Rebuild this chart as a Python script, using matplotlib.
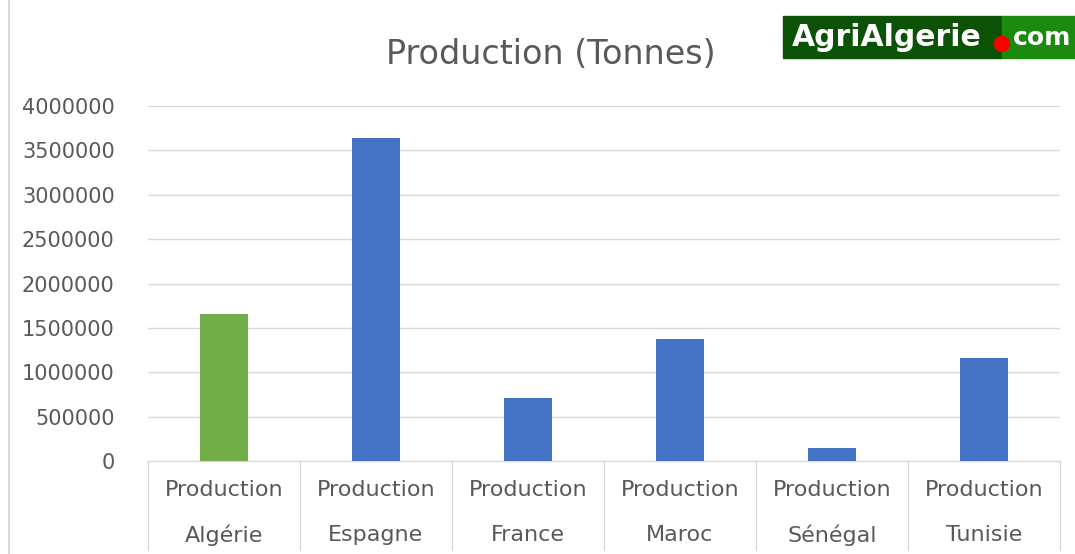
import matplotlib.pyplot as plt
from matplotlib.patches import Rectangle, Ellipse
from matplotlib.lines import Line2D

pays = ['Algérie', 'Espagne', 'France', 'Maroc', 'Sénégal', 'Tunisie']
production = [1660000, 3640000, 710000, 1380000, 145000, 1160000]
couleurs = ['#70AD47', '#4472C4', '#4472C4', '#4472C4', '#4472C4', '#4472C4']
yticks = [0, 500000, 1000000, 1500000, 2000000, 2500000, 3000000, 3500000, 4000000]

plt.rcParams['font.family'] = ['DejaVu Sans']
gris = '#595959'

W, H = 1075, 554
fig = plt.figure(figsize=(W / 100, H / 100), dpi=100)

# zone de tracé en pixels
x0, x1, y0, y1 = 148, 1060, 461, 106
ax = fig.add_axes([x0 / W, 1 - y0 / H, (x1 - x0) / W, (y0 - y1) / H])

x = list(range(len(pays)))
ax.bar(x, production, width=0.31, color=couleurs, zorder=3)
ax.set_xlim(-0.5, len(pays) - 0.5)
ax.set_ylim(0, 4000000)
ax.set_yticks(yticks)
ax.set_yticklabels([str(v) for v in yticks], color=gris, fontsize=15)
ax.tick_params(axis='y', length=0, pad=24)
ax.set_xticks([])
ax.grid(axis='y', color='#D9D9D9', linewidth=1, zorder=0)
for s in ['top', 'right', 'left']:
    ax.spines[s].set_visible(False)
ax.spines['bottom'].set_color('#D9D9D9')

# étiquettes de catégories sur deux lignes avec séparateurs
bas = -(550 - y0) / (y0 - y1)
for i, p in enumerate(pays):
    ax.text(i, -(490 - y0) / (y0 - y1), 'Production', transform=ax.get_xaxis_transform(),
            ha='center', va='center', color=gris, fontsize=16)
    ax.text(i, -(535 - y0) / (y0 - y1), p, transform=ax.get_xaxis_transform(),
            ha='center', va='center', color=gris, fontsize=16)
for i in range(len(pays) + 1):
    ax.plot([i - 0.5, i - 0.5], [0, bas], transform=ax.get_xaxis_transform(),
            color='#D9D9D9', linewidth=1, clip_on=False)

fig.text(551 / W, 1 - 55 / H, 'Production (Tonnes)', ha='center', va='center',
         color=gris, fontsize=24)

# bordure gauche du graphique
fig.add_artist(Line2D([9 / W, 9 / W], [0, 1], color='#D9D9D9', linewidth=1.5))

# logo AgriAlgerie.com
fig.add_artist(Rectangle((783 / W, 1 - 58 / H), (1002 - 783) / W, 42 / H,
                         transform=fig.transFigure, color='#0B5207'))
fig.add_artist(Rectangle((1002 / W, 1 - 58 / H), (W - 1002) / W, 42 / H,
                         transform=fig.transFigure, color='#1C8A0E'))
fig.text(792 / W, 1 - 38 / H, 'AgriAlgerie', ha='left', va='center', color='white',
         fontsize=21.5, fontweight='bold')
fig.text(1013 / W, 1 - 38 / H, 'com', ha='left', va='center', color='white',
         fontsize=18, fontweight='bold')
fig.add_artist(Ellipse((1002 / W, 1 - 44 / H), 15 / W, 15 / H, transform=fig.transFigure,
                       color='#FF0000'))

fig.savefig('out.png', dpi=100)
